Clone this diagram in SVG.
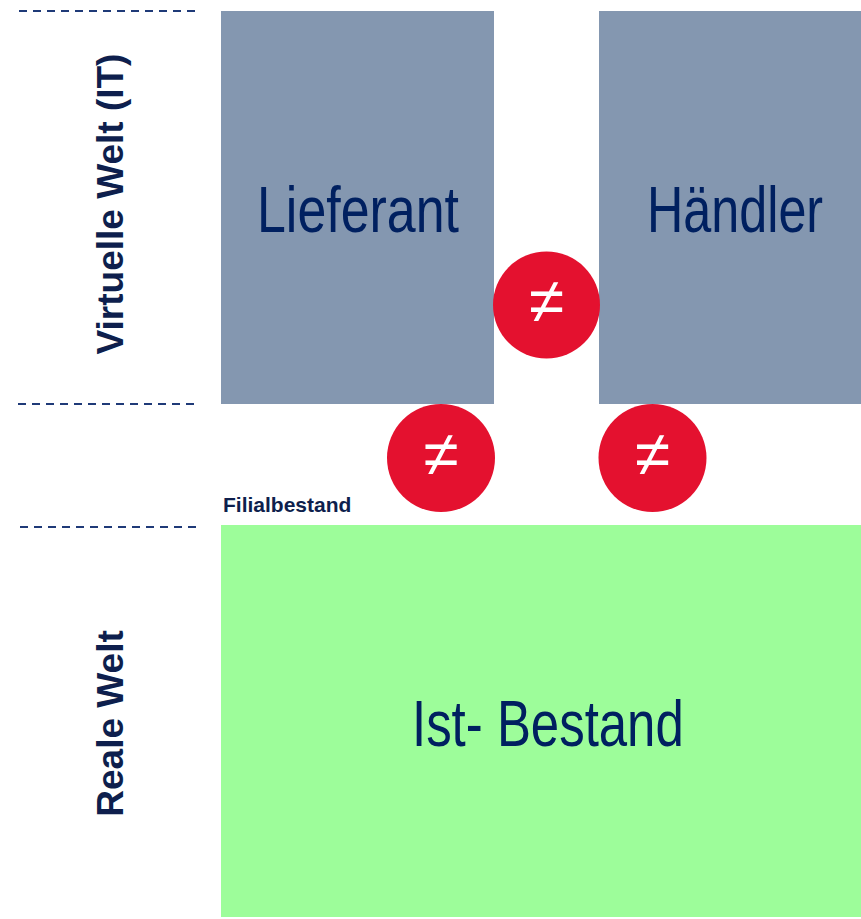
<svg xmlns="http://www.w3.org/2000/svg" width="861" height="919" viewBox="0 0 861 919">
<style>
.dash{stroke:#1f3a78;stroke-width:2;stroke-dasharray:8 6;fill:none}
.box{fill:#8497b0}
.real{fill:#9dfd9a}
.ne{fill:#e4112f}
.big{font-family:"Liberation Sans",Arial,sans-serif;font-size:64px;fill:#002060}
.side{font-family:"Liberation Sans",Arial,sans-serif;font-size:37px;font-weight:bold;fill:#0e1f4d}
.sym{font-family:"Liberation Sans","DejaVu Sans",sans-serif;font-size:64px;fill:#ffffff}
.small{font-family:"Liberation Sans",Arial,sans-serif;font-size:21px;font-weight:bold;fill:#0e1f4d}
</style>
<rect width="861" height="919" fill="#ffffff"/>
<g id="separators">
<line class="dash" x1="19" y1="11" x2="195" y2="11"/>
<line class="dash" x1="18" y1="404" x2="194" y2="404"/>
<line class="dash" x1="20" y1="527" x2="197" y2="527"/>
</g>
<g id="label-virtual"><text class="side" transform="translate(123,204) rotate(-90)" text-anchor="middle">Virtuelle Welt (IT)</text></g>
<g id="label-real"><text class="side" transform="translate(123,723.5) rotate(-90)" text-anchor="middle">Reale Welt</text></g>
<g id="lieferant"><rect class="box" x="221" y="11" width="273" height="393"/><text class="big" transform="translate(257,232) scale(0.811,1)">Lieferant</text></g>
<g id="haendler"><rect class="box" x="599" y="11" width="262" height="393"/><text class="big" transform="translate(647,232) scale(0.786,1)">Händler</text></g>
<g id="connectors">
<g id="ne-top"><circle class="ne" cx="546.5" cy="305" r="53.5"/><text class="sym" x="546.5" y="323" text-anchor="middle">≠</text></g>
<g id="ne-left"><circle class="ne" cx="441" cy="458" r="54"/><text class="sym" x="441" y="476" text-anchor="middle">≠</text></g>
<g id="ne-right"><circle class="ne" cx="652.5" cy="458" r="54"/><text class="sym" x="652.5" y="476" text-anchor="middle">≠</text></g>
</g>
<g id="filialbestand"><text class="small" x="223" y="512">Filialbestand</text></g>
<g id="istbestand"><rect class="real" x="221" y="525" width="640" height="392"/><text class="big" transform="translate(412,746) scale(0.796,1)">Ist- Bestand</text></g>
</svg>
